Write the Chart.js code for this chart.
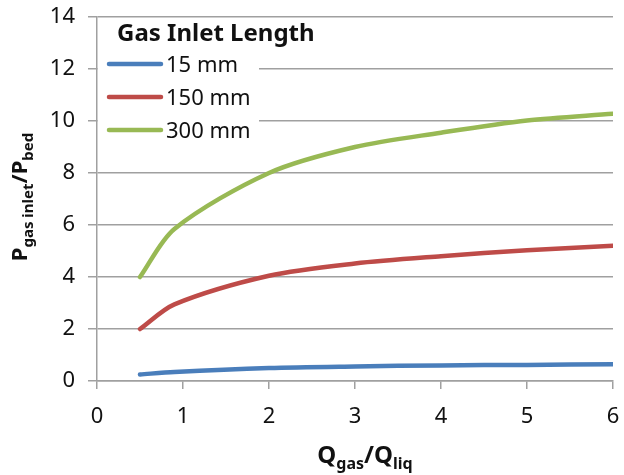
<!DOCTYPE html>
<html>
<head>
<meta charset="utf-8">
<script src="https://cdn.jsdelivr.net/npm/chart.js@4.4.1/dist/chart.umd.min.js"></script>
<style>
  html, body { margin: 0; padding: 0; background: #fff; }
</style>
</head>
<body>
<canvas id="chart" width="624" height="475"></canvas>
<script>
// data
const qRatio = [0.5, 0.9, 2, 3, 4, 5, 6];
const p15mm = [0.25, 0.35, 0.5, 0.56, 0.6, 0.62, 0.64];
const p150mm = [2.0, 2.95, 4.05, 4.52, 4.8, 5.03, 5.2];
const p300mm = [4.0, 5.85, 8.0, 9.0, 9.55, 10.02, 10.28];
const seriesLabels = ['15 mm', '150 mm', '300 mm'];
const seriesColors = ['#4a7ebb', '#be4b48', '#98b954'];
const legendTitle = 'Gas Inlet Length';
const xTitle = [['Q', 24, 0], ['gas', 16, 6], ['/Q', 24, 0], ['liq', 16, 6]];
const yTitle = [['P', 22, 0], ['gas inlet', 15, 6], ['/P', 22, 0], ['bed', 15, 6]];

const FONT = '"Noto Sans", "Open Sans", sans-serif';

function toPoints(ys) {
  return ys.map((y, i) => ({ x: qRatio[i], y: y }));
}

// text with subscripts, centered on x
function drawRich(ctx, parts, x, y) {
  let w = 0;
  parts.forEach(p => {
    ctx.font = 'bold ' + p[1] + 'px ' + FONT;
    w += ctx.measureText(p[0]).width;
  });
  let cx = x - w / 2;
  parts.forEach(p => {
    ctx.font = 'bold ' + p[1] + 'px ' + FONT;
    ctx.fillText(p[0], cx, y + p[2]);
    cx += ctx.measureText(p[0]).width;
  });
}

const extras = {
  id: 'extras',
  beforeDatasetsDraw(chart) {
    const ctx = chart.ctx;
    const area = chart.chartArea;
    ctx.save();
    // legend box over the grid
    ctx.fillStyle = '#fff';
    ctx.fillRect(area.left + 1, 20, 161, 128);
    ctx.fillStyle = '#111';
    ctx.textAlign = 'left';
    ctx.textBaseline = 'alphabetic';
    ctx.font = 'bold 24px ' + FONT;
    ctx.fillText(legendTitle, 117, 41);
    chart.data.datasets.forEach((ds, i) => {
      const cy = 64 + i * 33;
      ctx.strokeStyle = ds.borderColor;
      ctx.lineWidth = 4.5;
      ctx.lineCap = 'round';
      ctx.beginPath();
      ctx.moveTo(109, cy);
      ctx.lineTo(161, cy);
      ctx.stroke();
      ctx.font = '22px ' + FONT;
      ctx.fillStyle = '#111';
      ctx.fillText(ds.label, 166, cy + 8);
    });
    // axis titles
    drawRich(ctx, xTitle, 365, 463);
    ctx.translate(27, 197);
    ctx.rotate(-Math.PI / 2);
    drawRich(ctx, yTitle, 0, 0);
    ctx.restore();
  }
};

const ctx = document.getElementById('chart').getContext('2d');
new Chart(ctx, {
  type: 'line',
  data: {
    datasets: [p15mm, p150mm, p300mm].map((ys, i) => ({
      label: seriesLabels[i],
      data: toPoints(ys),
      borderColor: seriesColors[i],
      backgroundColor: seriesColors[i],
      borderWidth: 4.5,
      borderCapStyle: 'round',
      pointRadius: 0,
      tension: 0.3,
      fill: false
    }))
  },
  options: {
    responsive: false,
    animation: false,
    devicePixelRatio: 1,
    layout: { padding: { left: 0, right: 11, top: 17, bottom: 0 } },
    plugins: {
      legend: { display: false },
      tooltip: { enabled: false }
    },
    scales: {
      x: {
        type: 'linear',
        min: 0,
        max: 6,
        afterFit(scale) {
          scale.height = 94;
          scale.paddingLeft = 0;
          scale.paddingRight = 0;
        },
        ticks: { stepSize: 1, padding: 15, color: '#111', font: { family: FONT, size: 22 } },
        grid: { drawOnChartArea: false, drawTicks: true, tickLength: 8, color: '#a0a0a0', lineWidth: 1.5 },
        border: { display: true, color: '#a0a0a0', width: 1.5 }
      },
      y: {
        min: 0,
        max: 14,
        afterFit(scale) {
          scale.width = 97;
          scale.paddingTop = 0;
          scale.paddingBottom = 0;
        },
        ticks: { stepSize: 2, padding: 13, color: '#111', font: { family: FONT, size: 22 } },
        grid: { drawTicks: true, tickLength: 9, color: '#a0a0a0', lineWidth: 1.5 },
        border: { display: true, color: '#a0a0a0', width: 1.5 }
      }
    }
  },
  plugins: [extras]
});
</script>
</body>
</html>
